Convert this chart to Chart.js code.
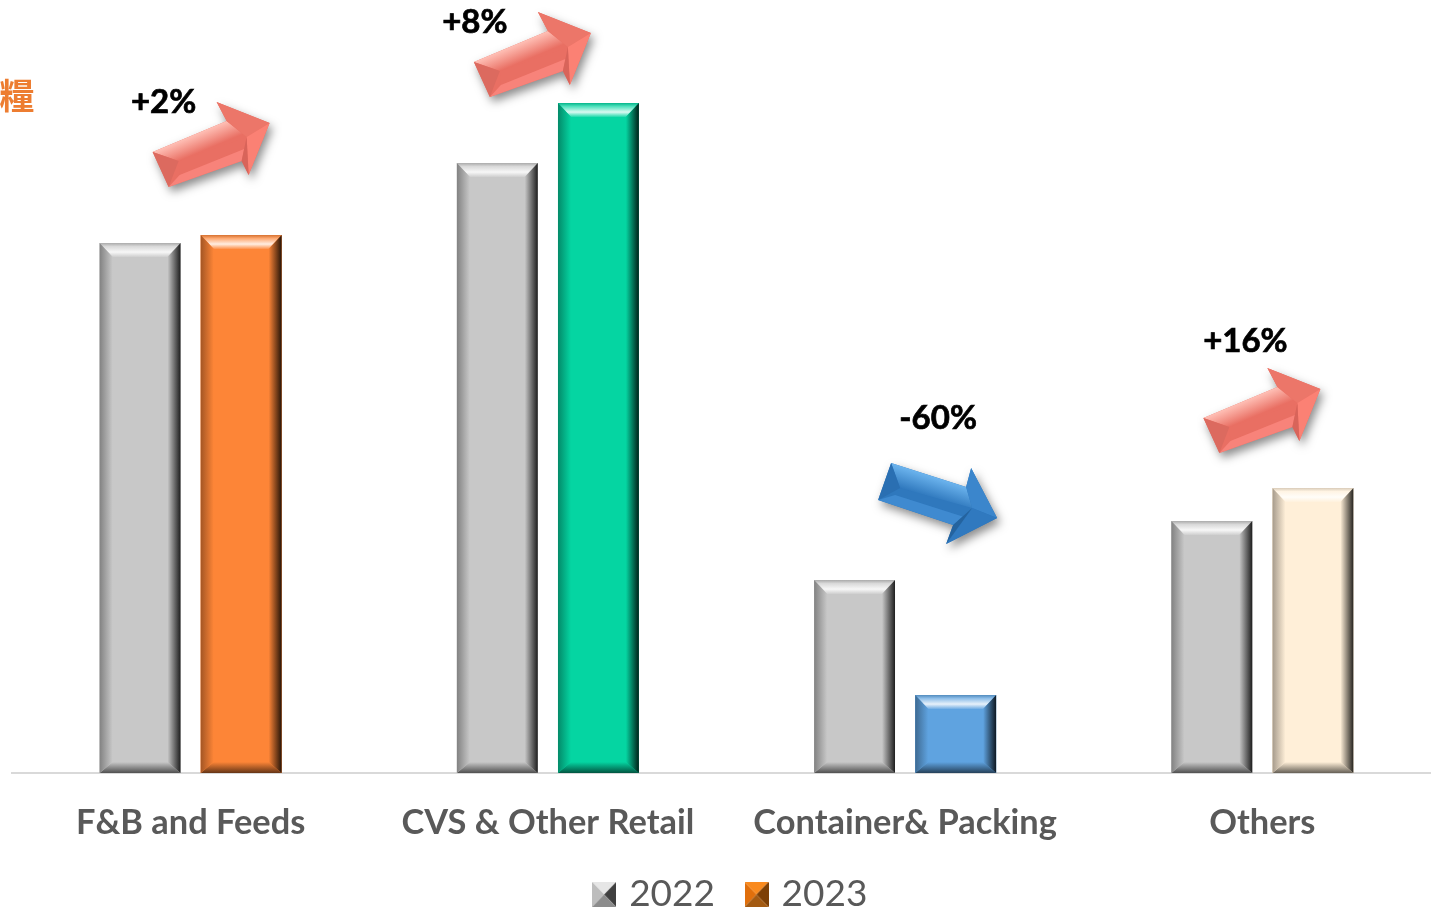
<!DOCTYPE html>
<html>
<head>
<meta charset="utf-8">
<script src="https://cdn.jsdelivr.net/npm/chart.js@4"></script>
<style>
html, body { margin: 0; padding: 0; background: #fff; overflow: hidden; }
#wrap { width: 1431px; height: 912px; overflow: hidden; }
</style>
</head>
<body>
<div id="wrap"><canvas id="myChart" width="1456" height="923"></canvas></div>
<script>
var categories = ['F&B and Feeds', 'CVS & Other Retail', 'Container& Packing', 'Others'];
var values2022 = [530, 610, 193, 252];
var values2023 = [538, 670, 78, 285];
var changes = ['+2%', '+8%', '-60%', '+16%'];
var seriesNames = ['2022', '2023'];

var colors2022 = ['#c8c8c8', '#c8c8c8', '#c8c8c8', '#c8c8c8'];
var colors2023 = ['#fd8537', '#05d5a2', '#5fa3e0', '#ffefd8'];

// where the arrow and the % text sit, relative to the top of each bar pair
var arrowSpots = [[-38, -83], [-74, -41], [-14, -117], [-59, -70]];
var textSpots = [[-27, -133], [-73, -81], [33, -162], [-17, -147]];

var upArrow = {
    tailTop: [0, 0], tailBottom: [16, 35], tailIn: [26, 9],
    neckTop: [74, -31], neckBottom: [89, 9], ridge: [94, -15],
    tip: [117, -29], barbTop: [64, -50], barbBottom: [96, 23]
};
var downArrow = {
    tailTop: [0, 0], tailBottom: [-13, 37], tailIn: [9, 25],
    neckTop: [75, 24], neckBottom: [62, 62], ridge: [81, 45],
    tip: [106, 55], barbTop: [80, 5], barbBottom: [55, 81]
};
var redArrow = { light: '#ffc0b6', mid: '#e96f63', low: '#f8837a', tail: '#dc6a5f', headTop: '#ec7669', headLow: '#fb8174', neck: '#d8645a' };
var blueArrow = { light: '#6cb4ee', mid: '#2f78bd', low: '#3f8ad0', tail: '#2a6fb2', headTop: '#3b86cc', headLow: '#3079bf', neck: '#24639f' };

function shade(hex, f) {
    var n = parseInt(hex.slice(1), 16);
    var t = f < 0 ? 0 : 255, a = Math.abs(f);
    var r = (n >> 16) & 255, g = (n >> 8) & 255, b = n & 255;
    return 'rgb(' + Math.round(r + (t - r) * a) + ',' + Math.round(g + (t - g) * a) + ',' + Math.round(b + (t - b) * a) + ')';
}

function poly(ctx, pts, fill) {
    ctx.beginPath();
    ctx.moveTo(pts[0][0], pts[0][1]);
    for (var i = 1; i < pts.length; i++) ctx.lineTo(pts[i][0], pts[i][1]);
    ctx.closePath();
    ctx.fillStyle = fill;
    ctx.fill();
}

function bevelBox(ctx, x0, y0, x1, y1, base, dx, top, bottom) {
    ctx.fillStyle = base;
    ctx.fillRect(x0, y0, x1 - x0, y1 - y0);
    var g = ctx.createLinearGradient(0, y0, 0, y0 + top);
    g.addColorStop(0, shade(base, -0.15));
    g.addColorStop(0.25, shade(base, 0.3));
    g.addColorStop(0.65, shade(base, 0.85));
    g.addColorStop(1, shade(base, 0.1));
    poly(ctx, [[x0, y0], [x1, y0], [x1 - dx, y0 + top], [x0 + dx, y0 + top]], g);
    g = ctx.createLinearGradient(0, y1, 0, y1 - bottom);
    g.addColorStop(0, shade(base, -0.6));
    g.addColorStop(1, base);
    poly(ctx, [[x0, y1], [x1, y1], [x1 - dx, y1 - bottom], [x0 + dx, y1 - bottom]], g);
    g = ctx.createLinearGradient(x0, 0, x0 + dx, 0);
    g.addColorStop(0, shade(base, -0.35));
    g.addColorStop(1, base);
    poly(ctx, [[x0, y0], [x0 + dx, y0 + top], [x0 + dx, y1 - bottom], [x0, y1]], g);
    g = ctx.createLinearGradient(x1, 0, x1 - dx, 0);
    g.addColorStop(0, shade(base, -0.85));
    g.addColorStop(1, base);
    poly(ctx, [[x1, y0], [x1 - dx, y0 + top], [x1 - dx, y1 - bottom], [x1, y1]], g);
}

// gradient running square across the edge a-b, reaching c
function acrossEdge(ctx, a, b, c, from, to) {
    var ex = b[0] - a[0], ey = b[1] - a[1];
    var t = ((c[0] - a[0]) * ex + (c[1] - a[1]) * ey) / (ex * ex + ey * ey);
    var g = ctx.createLinearGradient(a[0] + t * ex, a[1] + t * ey, c[0], c[1]);
    g.addColorStop(0, from);
    g.addColorStop(1, to);
    return g;
}

function drawArrow(ctx, x, y, s, c) {
    function p(k) { return [x + s[k][0], y + s[k][1]]; }
    // shadow first, then the facets on top of it
    ctx.save();
    ctx.shadowColor = 'rgba(0,0,0,0.45)';
    ctx.shadowBlur = 10;
    ctx.shadowOffsetX = 3;
    ctx.shadowOffsetY = 5;
    poly(ctx, [p('tailTop'), p('neckTop'), p('barbTop'), p('tip'), p('barbBottom'), p('neckBottom'), p('tailBottom')], c.mid);
    ctx.restore();

    var lowEdge = [(s.tailIn[0] + s.tailBottom[0]) / 2 + x + 6, (s.tailIn[1] + s.tailBottom[1]) / 2 + y + 1];
    var lowEnd = [(s.ridge[0] + s.neckBottom[0]) / 2 + x, (s.ridge[1] + s.neckBottom[1]) / 2 + y];
    poly(ctx, [p('tailIn'), p('ridge'), lowEnd, lowEdge], c.mid);
    poly(ctx, [lowEdge, lowEnd, p('neckBottom'), p('tailBottom')], c.low);
    poly(ctx, [p('tailTop'), p('neckTop'), p('ridge'), p('tailIn')], acrossEdge(ctx, p('tailTop'), p('neckTop'), p('tailIn'), c.light, c.mid));
    poly(ctx, [p('tailTop'), p('tailIn'), p('tailBottom')], c.tail);
    poly(ctx, [p('barbTop'), p('tip'), p('ridge'), p('neckTop')], c.headTop);
    poly(ctx, [p('ridge'), p('tip'), p('barbBottom')], c.headLow);
    poly(ctx, [p('ridge'), p('barbBottom'), p('neckBottom')], c.neck);
}

function legendIcon(top, left, right, bottom) {
    var c = document.createElement('canvas');
    c.width = 24;
    c.height = 25;
    var g = c.getContext('2d');
    var mx = 12, my = 12.5;
    poly(g, [[0, 0], [24, 0], [mx, my]], top);
    poly(g, [[0, 0], [mx, my], [0, 25]], left);
    poly(g, [[24, 0], [24, 25], [mx, my]], right);
    poly(g, [[0, 25], [24, 25], [mx, my]], bottom);
    return c;
}

var bevelPlugin = {
    id: 'bevel',
    // legend sits a little right of the plot centre in the original
    afterLayout: function (chart) {
        chart.legend.left += 12;
    },
    afterDatasetsDraw: function (chart) {
        var ctx = chart.ctx;
        chart.data.datasets.forEach(function (ds, d) {
            chart.getDatasetMeta(d).data.forEach(function (bar, i) {
                var w = bar.width / 2;
                bevelBox(ctx, bar.x - w, bar.y, bar.x + w, bar.base, ds.backgroundColor[i], 13, 14, 11);
            });
        });
    }
};

var notesPlugin = {
    id: 'notes',
    afterDraw: function (chart) {
        var ctx = chart.ctx;
        var xs = chart.scales.x, ys = chart.scales.y;
        categories.forEach(function (c, i) {
            var x = xs.getPixelForValue(i);
            var y = ys.getPixelForValue(Math.max(values2022[i], values2023[i]));
            var down = changes[i].charAt(0) === '-';
            drawArrow(ctx, x + arrowSpots[i][0], y + arrowSpots[i][1], down ? downArrow : upArrow, down ? blueArrow : redArrow);
            ctx.fillStyle = '#000';
            ctx.strokeStyle = '#000';
            ctx.lineWidth = 0.7;
            ctx.font = 'bold 33px Lato';
            ctx.textAlign = 'center';
            ctx.textBaseline = 'middle';
            ctx.fillText(changes[i], x + textSpots[i][0], y + textSpots[i][1]);
            ctx.strokeText(changes[i], x + textSpots[i][0], y + textSpots[i][1]);
        });
        ctx.fillStyle = '#ed7d31';
        ctx.font = 'bold 35px "Noto Sans CJK TC"';
        ctx.textAlign = 'center';
        ctx.textBaseline = 'middle';
        ctx.fillText('糧', 17, 96);
    }
};

var ctx = document.getElementById('myChart');
var myChart = new Chart(ctx, {
    type: 'bar',
    plugins: [bevelPlugin, notesPlugin],
    data: {
        labels: categories,
        datasets: [{
            label: seriesNames[0],
            backgroundColor: colors2022,
            data: values2022
        },
        {
            label: seriesNames[1],
            backgroundColor: colors2023,
            data: values2023
        }]
    },
    options: {
        responsive: false,
        animation: false,
        barPercentage: 0.8,
        categoryPercentage: 0.566,
        layout: { padding: { left: 12, right: 15, top: 0, bottom: 0 } },
        scales: {
            x: {
                grid: { display: false },
                border: { color: '#d9d9d9', width: 2 },
                ticks: { color: '#595959', font: { family: 'Lato', size: 34.4, weight: 'bold' }, padding: 21, maxRotation: 0 },
                afterFit: function (scale) { scale.height = 68; }
            },
            y: { display: false, min: 0, max: 773 }
        },
        plugins: {
            tooltip: { enabled: false },
            legend: {
                position: 'bottom',
                labels: {
                    color: '#595959',
                    font: { family: 'Lato', size: 37 },
                    usePointStyle: true,
                    pointStyleWidth: 13,
                    padding: 35,
                    generateLabels: function (chart) {
                        var items = Chart.defaults.plugins.legend.labels.generateLabels(chart);
                        items[0].pointStyle = legendIcon('#e6e6e6', '#bdbdbd', '#3f3f3f', '#8c8c8c');
                        items[1].pointStyle = legendIcon('#f98a1e', '#e06f0c', '#7d3f05', '#a35a12');
                        return items;
                    }
                }
            }
        }
    }
});
</script>
</body>
</html>
